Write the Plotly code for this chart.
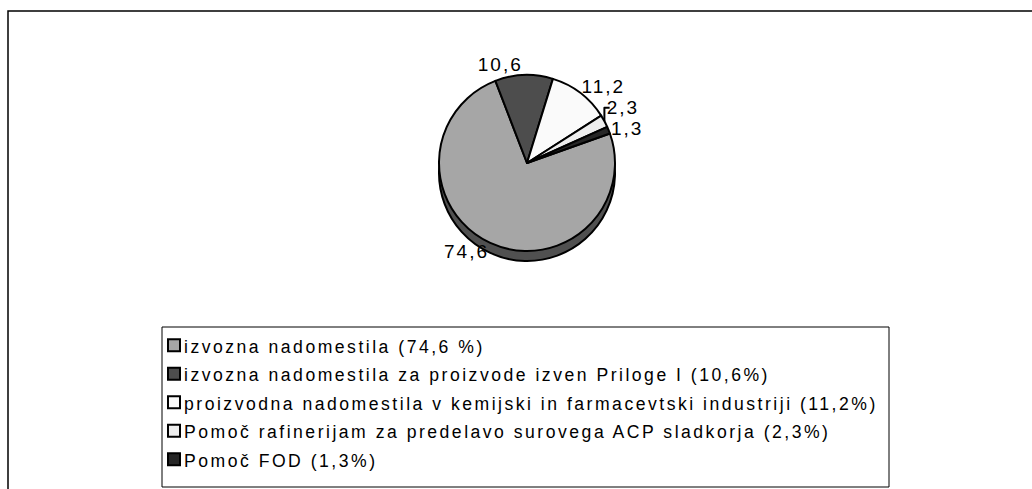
import plotly.graph_objects as go

labels = [
    "izvozna nadomestila (74,6 %)",
    "izvozna nadomestila za proizvode izven Priloge I (10,6%)",
    "proizvodna nadomestila v kemijski in farmacevtski industriji (11,2%)",
    "Pomoč rafinerijam za predelavo surovega ACP sladkorja (2,3%)",
    "Pomoč FOD (1,3%)",
]
values = [74.6, 10.6, 11.2, 2.3, 1.3]
value_text = ["74,6", "10,6", "11,2", "2,3", "1,3"]
top_colors = ["#A6A6A6", "#4D4D4D", "#FAFAFA", "#EEEEEE", "#262626"]
side_colors = ["#505050", "#262626", "#7D7D7D", "#777777", "#131313"]

W, H = 1032, 489
cx, cy, r = 527, 163, 88
depth = 10

def dom(cx, cy, r):
    return dict(x=[(cx - r) / W, (cx + r) / W], y=[1 - (cy + r) / H, 1 - (cy - r) / H])

fig = go.Figure()
# side (depth) of the pie
fig.add_trace(go.Pie(
    labels=labels, values=values, sort=False, direction="clockwise", rotation=70.4,
    marker=dict(colors=side_colors, line=dict(color="black", width=2)),
    textinfo="none", showlegend=False, hoverinfo="skip",
    domain=dom(cx, cy + depth, r),
))
# top face
fig.add_trace(go.Pie(
    labels=labels, values=values, sort=False, direction="clockwise", rotation=70.4,
    marker=dict(colors=top_colors, line=dict(color="black", width=2)),
    text=value_text, textinfo="text", textposition="outside",
    textfont=dict(family="Liberation Sans, Arial", size=19, color="black"),
    domain=dom(cx, cy, r),
))

fig.update_layout(
    width=W, height=H,
    margin=dict(l=0, r=0, t=0, b=0),
    paper_bgcolor="white",
    font=dict(family="Liberation Sans, Arial", color="black"),
    legend=dict(
        x=154 / W, y=1 - 326 / H, xanchor="left", yanchor="top",
        font=dict(family="Liberation Sans, Arial", size=19.6, color="black"),
        bgcolor="rgba(0,0,0,0)", borderwidth=0,
        itemclick=False, itemdoubleclick=False,
    ),
    shapes=[
        dict(type="rect", xref="paper", yref="paper", x0=8 / W, x1=1.05, y0=-0.05, y1=1 - 11 / H,
             line=dict(color="black", width=1.5), fillcolor="rgba(0,0,0,0)"),
        dict(type="rect", xref="paper", yref="paper", x0=162 / W, x1=889 / W, y0=1 - 487 / H, y1=1 - 327 / H,
             line=dict(color="black", width=1), fillcolor="rgba(0,0,0,0)"),
    ],
)

post = """
document.body.style.margin = '0';
var gd = document.getElementById('{plot_id}');
gd.querySelectorAll('.legend .legendtext').forEach(function(t){
  t.style.fontSize = '17.6px';
  t.style.letterSpacing = '2.5px';
  var x = parseFloat(t.getAttribute('x') || '40');
  t.setAttribute('x', x - 10);
});
var sb = gd.querySelector('.legend .scrollbox');
if (sb) { sb.removeAttribute('clip-path'); }
gd.querySelectorAll('.pielayer text').forEach(function(t){
  t.style.letterSpacing = '2px';
});
"""

fig.write_html("out.html", post_script=post, config={"displayModeBar": False})
